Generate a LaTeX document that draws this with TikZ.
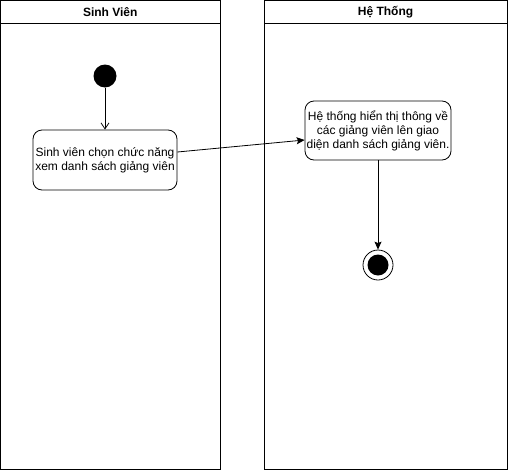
\documentclass[tikz,border=0pt]{standalone}
\usepackage{fontspec}
\setmainfont{Liberation Sans}
\usetikzlibrary{arrows.meta,positioning}
\begin{document}
\begin{tikzpicture}[x=1pt,y=-1pt,
  lane/.style={draw,line width=1pt},
  lanetitle/.style={font=\fontsize{12}{14}\selectfont\bfseries},
  act/.style={draw,line width=0.8pt,rounded corners=9pt,align=center,inner sep=0pt,
    font=\fontsize{12}{14}\selectfont},
  flow/.style={line width=0.8pt},
]
\useasboundingbox (0,0) rectangle (508,471);
% lanes
\draw[lane] (0.5,0.5) rectangle (220,469.5);
\draw[lane] (0.5,23) -- (220,23);
\node[lanetitle] (t1) at (110.25,12) {Sinh Viên};
\draw[lane] (264,0.5) rectangle (507,469.5);
\draw[lane] (264,23) -- (507,23);
\node[lanetitle] (t2) at (385.5,12) {Hệ Thống};
% start
\node[circle,fill=black,minimum size=23pt,inner sep=0pt] (start) at (105,76) {};
% activities
\node[act,minimum width=144pt,minimum height=60pt] (a1) at (105,160)
  {Sinh viên chọn chức năng\\xem danh sách giảng viên};
\node[act,minimum width=146pt,minimum height=59pt] (a2) at (378,130.5)
  {Hệ thống hiển thị thông về\\các giảng viên lên giao\\diện danh sách giảng viên.};
% end
\node[circle,draw,line width=0.8pt,minimum size=30pt,inner sep=0pt] (end) at (378,265) {};
\node[circle,fill=black,minimum size=21pt,inner sep=0pt] (endin) at (end) {};
% flows
\draw[flow,-{Straight Barb[length=6pt,width=8pt]}] (start) -- (a1);
\draw[flow,-{Stealth[length=8pt,width=7pt,inset=1.5pt]}] (a1.east |- 0,152) -- (a2.west |- 0,140);
\draw[flow,-{Stealth[length=8pt,width=7pt,inset=1.5pt]}] (a2) -- (end);
\end{tikzpicture}
\end{document}
